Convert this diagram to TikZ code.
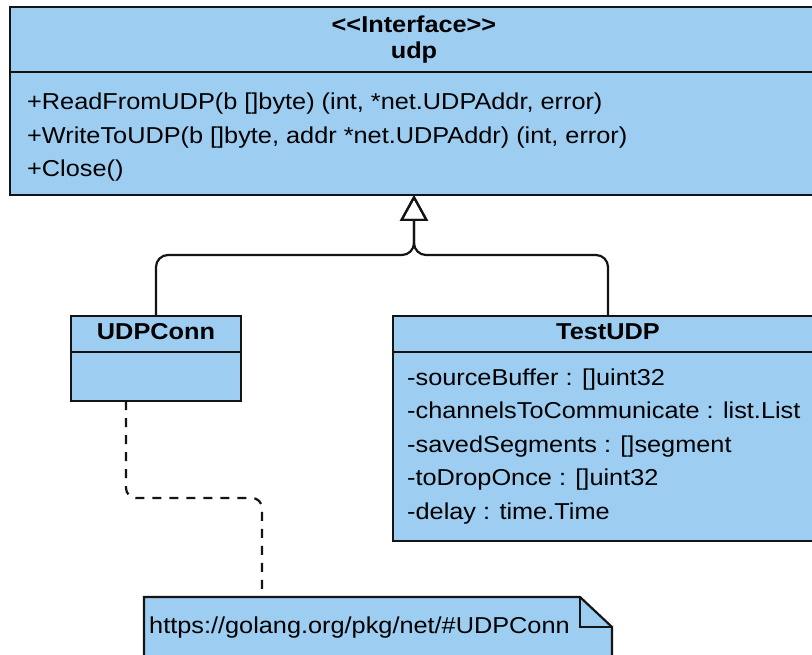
\documentclass[tikz,border=0pt]{standalone}
\usepackage{fontspec}
\newfontfamily\umlfont{Liberation Sans}[FakeStretch=1.1]
\usetikzlibrary{arrows.meta,calc}

\definecolor{classfill}{RGB}{157,206,242}
\definecolor{edge}{RGB}{20,20,20}

\tikzset{
  umlbox/.style={draw=edge, fill=classfill, line width=2.2pt, inner sep=0pt, outer sep=0pt, anchor=north west},
  divider/.style={draw=edge, line width=2.2pt},
  member/.style={anchor=base west, inner sep=0pt, font=\umlfont\fontsize{23}{27}\selectfont, text=black},
  title/.style={anchor=base, inner sep=0pt, font=\umlfont\bfseries\fontsize{23}{27}\selectfont, text=black},
  realize/.style={draw=edge, line width=2.2pt, rounded corners=12pt,
    -{Triangle[open, length=26pt, width=28pt, line width=2.2pt]}},
  noteline/.style={draw=edge, line width=2.2pt, dash pattern=on 9pt off 8pt, rounded corners=10pt},
}

\begin{document}
\begin{tikzpicture}[x=1pt, y=-1pt]
\useasboundingbox (0,0) rectangle (812,655);
\clip (0,0) rectangle (812,655);
\fill[white] (0,0) rectangle (812,655);

% interface udp
\node[umlbox, minimum width=808pt, minimum height=188pt] (iface) at (10,7) {};
\draw[divider] (10,72) -- (818,72);
\node[title] (ifst) at (414,33) {<<Interface>>};
\node[title] (ifname) at (414,59) {udp};
\node[member] (m1) at (27,110) {+ReadFromUDP(b []byte) (int, *net.UDPAddr, error)};
\node[member] (m2) at (27,144) {+WriteToUDP(b []byte, addr *net.UDPAddr) (int, error)};
\node[member] (m3) at (27,177) {+Close()};

% class UDPConn
\node[umlbox, minimum width=170pt, minimum height=85pt] (udpconn) at (71,316) {};
\draw[divider] (71,352) -- (241,352);
\node[title] (ucname) at (156,340) {UDPConn};

% class TestUDP
\node[umlbox, minimum width=430pt, minimum height=225pt] (testudp) at (393,316) {};
\draw[divider] (393,352) -- (823,352);
\node[title] (tuname) at (608,340) {TestUDP};
\node[member] (a1) at (407,385) {-sourceBuffer : []uint32};
\node[member] (a2) at (407,418) {-channelsToCommunicate : list.List};
\node[member] (a3) at (407,452) {-savedSegments : []segment};
\node[member] (a4) at (407,485) {-toDropOnce : []uint32};
\node[member] (a5) at (407,519) {-delay : time.Time};

% note
\node[inner sep=0pt, outer sep=0pt, anchor=north west, minimum width=468pt, minimum height=70pt] (note) at (144,597) {};
\draw[draw=edge, fill=classfill, line width=2.2pt]
  (note.north west) -- ($(note.north east)+(-32,0)$) -- ($(note.north east)+(0,30)$)
  -- (note.south east) -- (note.south west) -- cycle;
\draw[draw=edge, line width=2.2pt] ($(note.north east)+(-32,0)$) |- ($(note.north east)+(0,30)$);
\node[member] (notetext) at (149,633) {https://golang.org/pkg/net/\#UDPConn};

% realization of the interface
\coordinate (join) at (414,255);
\draw[realize] (udpconn.north) -- (udpconn.north |- join) -- (join) -- (iface.south -| join);
\draw[realize] (testudp.north) -- (testudp.north |- join) -- (join) -- (iface.south -| join);

% note attachment
\coordinate (ucfoot) at ($(udpconn.south west)+(55,0)$);
\coordinate (bend) at (262,498);
\draw[noteline] (ucfoot) -- (ucfoot |- bend) -- (bend) -- (bend |- note.north);
\end{tikzpicture}
\end{document}
